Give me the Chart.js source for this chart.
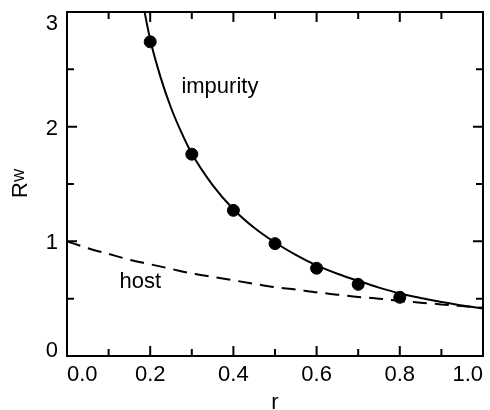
<!DOCTYPE html>
<html lang="en">
<head>
  <meta charset="UTF-8">
  <title>Rw versus r</title>
  <script src="https://cdn.jsdelivr.net/npm/chart.js"></script>
  <style>
    html, body { margin: 0; padding: 0; background: #fff; }
  </style>
</head>
<body>
  <canvas id="rwChart" width="490" height="410"></canvas>

  <script>
    // impurity fit (solid line)
    const impR  = [0.18, 0.2, 0.225, 0.25, 0.275, 0.3, 0.35, 0.4, 0.45, 0.5, 0.55, 0.6, 0.65, 0.7, 0.75, 0.8, 0.85, 0.9, 0.95, 1.0];
    const impRw = [3.12, 2.76, 2.43, 2.165, 1.95, 1.765, 1.49, 1.28, 1.118, 0.99, 0.882, 0.79, 0.717, 0.655, 0.596, 0.545, 0.506, 0.47, 0.441, 0.415];

    // host curve (dashed line)
    const hostR  = [0, 0.05, 0.1, 0.15, 0.2, 0.25, 0.3, 0.35, 0.4, 0.45, 0.5, 0.55, 0.6, 0.65, 0.7, 0.75, 0.8, 0.85, 0.9, 0.95, 1.0];
    const hostRw = [1.0, 0.94, 0.89, 0.84, 0.80, 0.76, 0.72, 0.69, 0.66, 0.63, 0.60, 0.58, 0.555, 0.535, 0.515, 0.50, 0.48, 0.465, 0.45, 0.435, 0.42];

    // measured impurity points (filled dots)
    const dotR  = [0.2, 0.3, 0.4, 0.5, 0.6, 0.7, 0.8];
    const dotRw = [2.74, 1.76, 1.27, 0.98, 0.765, 0.625, 0.512];

    // tick marks drawn inside the frame, and y tick labels
    const xTickMarks = [0, 0.1, 0.2, 0.3, 0.4, 0.5, 0.6, 0.7, 0.8, 0.9, 1.0];
    const yTickMarks = [0, 0.5, 1, 1.5, 2, 2.5, 3];
    const yTickLabels = [0, 1, 2, 3];

    // curve labels, placed in data units
    const curveLabels = [
      { text: 'impurity', r: 0.275, rw: 2.29 },
      { text: 'host', r: 0.126, rw: 0.593 }
    ];

    const toPoints = (xs, ys) => xs.map((v, i) => ({ x: v, y: ys[i] }));
    const FONT = "'Liberation Sans', Arial, sans-serif";

    Chart.defaults.font.family = FONT;
    Chart.defaults.font.size = 22;
    Chart.defaults.color = '#000';

    // frame, inward ticks, y labels, curve labels and the R_W title
    const framePlugin = {
      id: 'framePlugin',
      afterDatasetsDraw(chart) {
        const { ctx, chartArea: a, scales: { x, y } } = chart;
        ctx.save();
        ctx.strokeStyle = '#000';
        ctx.lineWidth = 2;
        ctx.strokeRect(a.left, a.top, a.right - a.left, a.bottom - a.top);

        ctx.beginPath();
        xTickMarks.forEach((v, i) => {
          const px = x.getPixelForValue(v);
          const len = i % 2 === 0 ? 10 : 7;
          ctx.moveTo(px, a.bottom); ctx.lineTo(px, a.bottom - len);
          ctx.moveTo(px, a.top); ctx.lineTo(px, a.top + len);
        });
        yTickMarks.forEach((v, i) => {
          const py = y.getPixelForValue(v);
          const len = i % 2 === 0 ? 10 : 7;
          ctx.moveTo(a.left, py); ctx.lineTo(a.left + len, py);
          ctx.moveTo(a.right, py); ctx.lineTo(a.right - len, py);
        });
        ctx.stroke();

        ctx.fillStyle = '#000';
        ctx.font = '22px ' + FONT;
        ctx.textBaseline = 'alphabetic';

        // y tick labels: end ones kept inside the frame height
        ctx.textAlign = 'right';
        yTickLabels.forEach((v, i) => {
          const py = y.getPixelForValue(v);
          let base = py + 8;
          if (i === 0) base = py + 1;
          if (i === yTickLabels.length - 1) base = py + 18;
          ctx.fillText(String(v), a.left - 9, base);
        });

        ctx.textAlign = 'left';
        curveLabels.forEach(l => {
          ctx.fillText(l.text, x.getPixelForValue(l.r), y.getPixelForValue(l.rw));
        });

        // y title: R with subscript W, rotated
        ctx.translate(0, (a.top + a.bottom) / 2);
        ctx.rotate(-Math.PI / 2);
        ctx.fillText('R', -14, 26.5);
        ctx.font = '14px ' + FONT;
        ctx.fillText('W', 2, 24);
        ctx.restore();
      }
    };

    new Chart(document.getElementById('rwChart'), {
      type: 'scatter',
      data: {
        datasets: [
          {
            label: 'impurity',
            data: toPoints(impR, impRw),
            showLine: true,
            borderColor: '#000',
            borderWidth: 2,
            pointRadius: 0,
            cubicInterpolationMode: 'monotone',
            clip: 0
          },
          {
            label: 'host',
            data: toPoints(hostR, hostRw),
            showLine: true,
            borderColor: '#000',
            borderWidth: 2,
            borderDash: [14, 8],
            pointRadius: 0,
            cubicInterpolationMode: 'monotone',
            clip: 0
          },
          {
            label: 'data',
            data: toPoints(dotR, dotRw),
            showLine: false,
            pointRadius: 6,
            pointBackgroundColor: '#000',
            pointBorderColor: '#000',
            clip: false
          }
        ]
      },
      options: {
        responsive: false,
        animation: false,
        devicePixelRatio: 1,
        layout: { padding: { left: 0, top: 12, right: 1, bottom: 0 } },
        plugins: {
          legend: { display: false },
          tooltip: { enabled: false }
        },
        scales: {
          x: {
            type: 'linear',
            min: 0,
            max: 1,
            grid: { display: false, drawTicks: false },
            border: { display: false },
            ticks: {
              stepSize: 0.2,
              align: 'inner',
              padding: 6,
              callback: v => v.toFixed(1)
            },
            title: {
              display: true,
              text: 'r',
              padding: { top: 0, bottom: -6 }
            },
            afterFit: s => { s.height = 54; }
          },
          y: {
            type: 'linear',
            min: 0,
            max: 3,
            grid: { display: false, drawTicks: false },
            border: { display: false },
            ticks: { display: false, stepSize: 1 },
            afterFit: s => { s.width = 67; }
          }
        }
      },
      plugins: [framePlugin]
    });
  </script>
</body>
</html>
